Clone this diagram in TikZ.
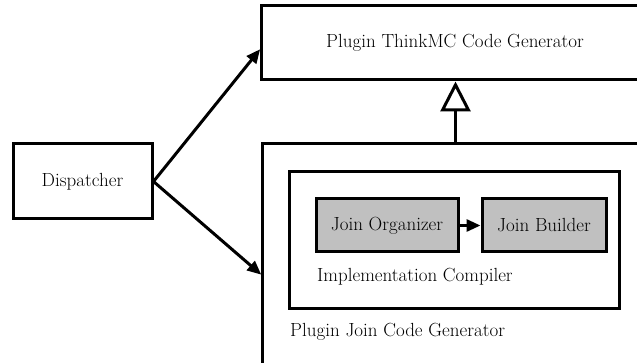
\documentclass[tikz,border=0pt]{standalone}
\usetikzlibrary{arrows.meta}
\definecolor{boxgray}{RGB}{192,192,192}
\begin{document}
\begin{tikzpicture}[x=1pt,y=-1pt,
  font=\fontsize{19}{23}\selectfont,
  frame/.style={draw=black,line width=3pt,fill=white,inner sep=0pt},
  grayframe/.style={frame,fill=boxgray},
  lbl/.style={anchor=west,inner sep=0pt},
  solidarrow/.style={line width=3pt,-{Triangle[length=14pt,width=12pt]}},
  genarrow/.style={line width=3pt,-{Triangle[open,length=30pt,width=30pt,line width=3pt]}}]
\useasboundingbox (0,0) rectangle (637,363);
\clip (0,0) rectangle (637,363);
% top box
\node[frame,minimum width=388pt,minimum height=74pt] (top) at (455,43) {Plugin ThinkMC Code Generator};
% big box
\node[frame,minimum width=387pt,minimum height=240pt] (big) at (455.5,264) {};
\node[lbl] (bigl) at (290,332) {Plugin Join Code Generator};
% inner box
\node[frame,minimum width=330pt,minimum height=136pt] (inner) at (454,240) {};
\node[lbl] (innerl) at (317,277) {Implementation Compiler};
% gray boxes
\node[grayframe,minimum width=142pt,minimum height=53pt] (org) at (387,225.5) {Join Organizer};
\node[grayframe,minimum width=124pt,minimum height=53pt] (bld) at (544,225.5) {Join Builder};
% dispatcher
\node[frame,minimum width=139pt,minimum height=75pt] (disp) at (82.5,181.5) {Dispatcher};
% connectors
\draw[solidarrow] (org.east) -- (bld.west);
\draw[solidarrow,shorten >=-1pt] (disp.east) -- ([yshift=-7pt]top.west);
\draw[solidarrow,shorten >=-1pt] (disp.east) -- ([yshift=-10pt]big.west);
\draw[genarrow] (big.north) -- (big.north |- top.south);
\end{tikzpicture}
\end{document}
